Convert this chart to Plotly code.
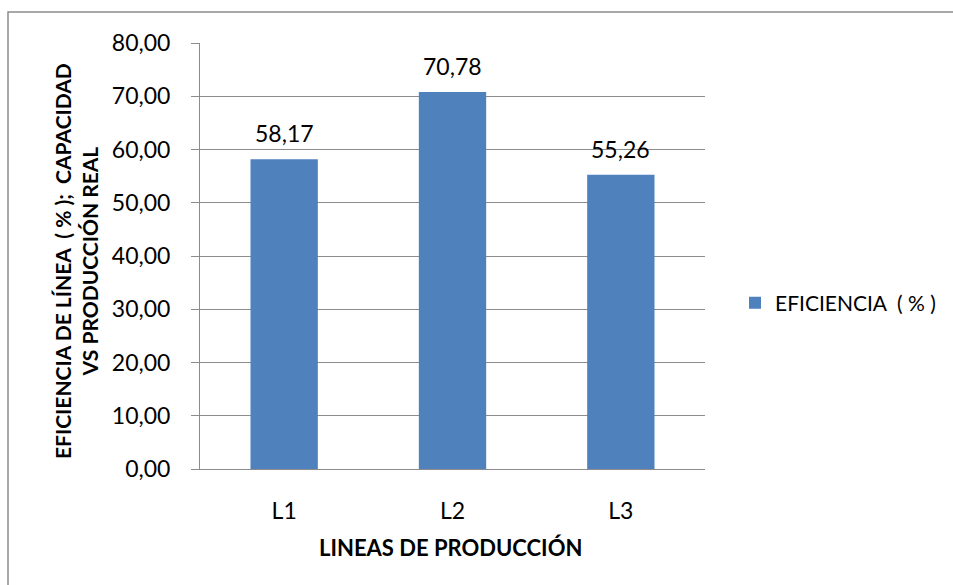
import plotly.graph_objects as go

# Line efficiency per production line
lineas = ["L1", "L2", "L3"]
eficiencia = [58.17, 70.78, 55.26]
serie = "EFICIENCIA  ( % )"
y_ticks = [0, 10, 20, 30, 40, 50, 60, 70, 80]

FONT = "Lato"
BLUE = "#4F81BD"
GRID = "#8C8C8C"

W, H = 953, 585
L, R, T, B = 200, 248, 43, 116
pw, ph = W - L - R, H - T - B


def px(x):
    return (x - L) / pw


def py(y):
    return (H - B - y) / ph


fig = go.Figure()
fig.add_trace(go.Bar(
    x=lineas,
    y=eficiencia,
    name=serie,
    marker=dict(color=BLUE, line=dict(width=0)),
    showlegend=True,
))

# value labels above each bar
value_labels = [
    dict(
        x=cat, y=val, xref="x", yref="y",
        text=f"{val:.2f}".replace(".", ","),
        showarrow=False, yanchor="bottom", yshift=10,
        font=dict(family=FONT, size=23, color="#000000"),
    )
    for cat, val in zip(lineas, eficiencia)
]

fig.update_layout(
    width=W, height=H,
    margin=dict(l=L, r=R, t=T, b=B),
    paper_bgcolor="white",
    plot_bgcolor="white",
    separators=",.",
    bargap=0.6,
    font=dict(family=FONT, color="#000000"),
    showlegend=True,
    legend=dict(
        x=px(735), y=py(303), xanchor="left", yanchor="middle",
        font=dict(family=FONT, size=21, color="#000000"),
        itemwidth=30,
    ),
    xaxis=dict(
        showgrid=False,
        showline=True, linecolor=GRID, linewidth=1,
        ticks="outside", ticklen=21, tickcolor="rgba(0,0,0,0)",
        tickfont=dict(family=FONT, size=23),
    ),
    yaxis=dict(
        range=[0, 80],
        tickvals=y_ticks,
        tickformat=".2f",
        showgrid=True, gridcolor=GRID, gridwidth=1,
        showline=True, linecolor=GRID, linewidth=1,
        ticks="outside", ticklen=8, tickcolor=GRID,
        ticklabelstandoff=16,
        tickfont=dict(family=FONT, size=23),
        zeroline=False,
    ),
    annotations=value_labels + [
        dict(
            text="<b>EFICIENCIA DE LÍNEA  ( % );  CAPACIDAD</b><br><b>VS PRODUCCIÓN REAL</b>",
            xref="paper", yref="paper",
            x=px(76), y=py(261), xanchor="center", yanchor="middle",
            textangle=-90, showarrow=False,
            font=dict(family=FONT, size=21, color="#000000"),
        ),
        dict(
            text="<b>LINEAS DE PRODUCCIÓN</b>",
            xref="paper", yref="paper",
            x=px(450), y=py(547), xanchor="center", yanchor="middle",
            showarrow=False,
            font=dict(family=FONT, size=22, color="#000000"),
        ),
    ],
    shapes=[
        dict(
            type="rect", xref="paper", yref="paper",
            x0=px(8), y0=py(600), x1=px(970), y1=py(12),
            line=dict(color="#8C8C8C", width=1.5),
            fillcolor="rgba(0,0,0,0)", layer="below",
        ),
    ],
)

fig.write_html("out.html")
